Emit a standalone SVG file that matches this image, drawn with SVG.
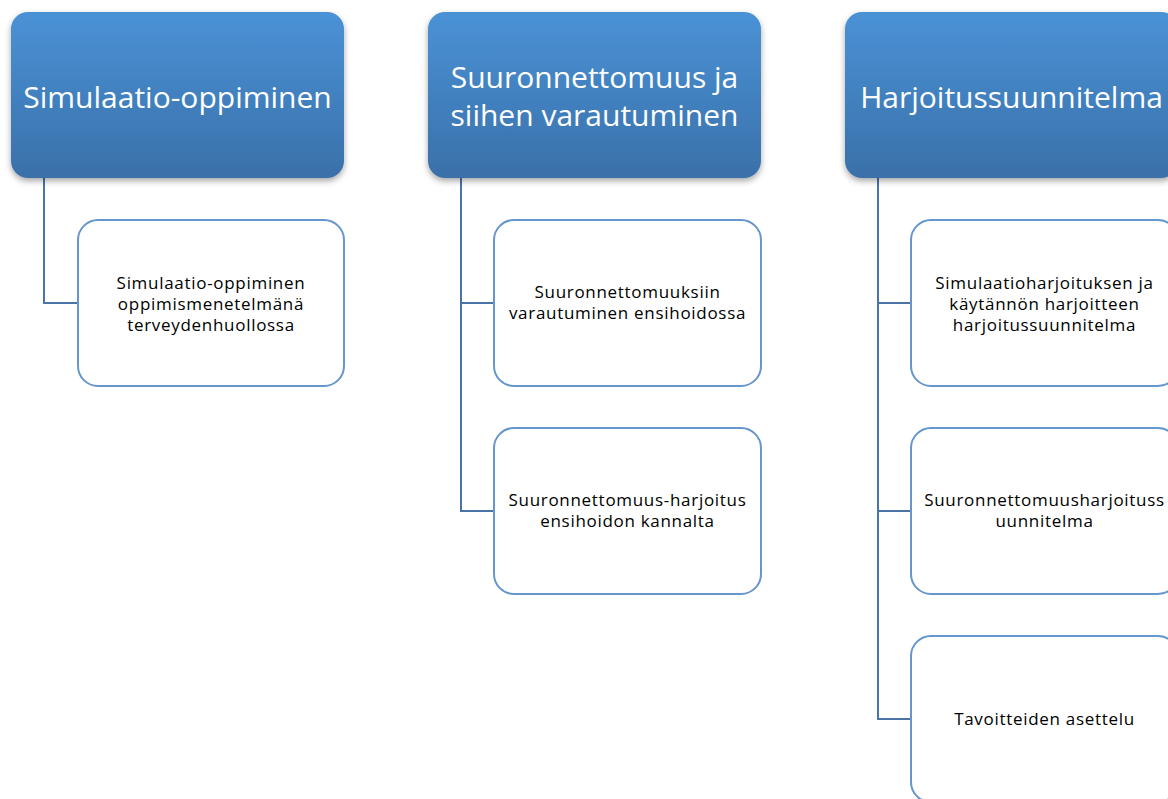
<svg xmlns="http://www.w3.org/2000/svg" width="1168" height="799" viewBox="0 0 1168 799">
<style>
.hdr{fill:url(#g);filter:url(#sh)}
.ht{font-family:"Open Sans",Lato,sans-serif;font-size:30px;fill:#fff;text-anchor:middle}
.cb{fill:#fff;stroke:#6796cc;stroke-width:2}
.ct{font-family:"Open Sans",Lato,sans-serif;font-size:17px;letter-spacing:0.7px;fill:#000;text-anchor:middle}
.cn{fill:none;stroke:#4a74a8;stroke-width:2}
</style>
<defs>
<linearGradient id="g" x1="0" y1="0" x2="0" y2="1">
<stop offset="0" stop-color="#4a92d6"/>
<stop offset="1" stop-color="#3a70a9"/>
</linearGradient>
<filter id="sh" x="-10%" y="-10%" width="120%" height="130%">
<feDropShadow dx="0" dy="3" stdDeviation="3" flood-color="#000" flood-opacity="0.35"/>
</filter>
</defs>
<rect width="1168" height="799" fill="#fff"/>
<g id="connectors">
<path class="cn" d="M44 178V303H78"/>
<path class="cn" d="M461 178V511H494M461 303H494"/>
<path class="cn" d="M878 178V719H911M878 303H911M878 511H911"/>
</g>
<g id="h1"><rect class="hdr" x="11" y="12" width="333" height="166" rx="17"/><text class="ht" x="177.5" y="108">Simulaatio-oppiminen</text></g>
<g id="h2"><rect class="hdr" x="428" y="12" width="333" height="166" rx="17"/><text class="ht" x="594.5" y="88">Suuronnettomuus ja</text><text class="ht" x="594.5" y="126">siihen varautuminen</text></g>
<g id="h3"><rect class="hdr" x="845" y="12" width="333" height="166" rx="17"/><text class="ht" x="1011.5" y="108">Harjoitussuunnitelma</text></g>
<g id="c1"><rect class="cb" x="78" y="220" width="266" height="166" rx="20"/><text class="ct" x="211" y="289">Simulaatio-oppiminen</text><text class="ct" x="211" y="310">oppimismenetelmänä</text><text class="ct" x="211" y="331">terveydenhuollossa</text></g>
<g id="c2"><rect class="cb" x="494" y="220" width="267" height="166" rx="20"/><text class="ct" x="627.5" y="298">Suuronnettomuuksiin</text><text class="ct" x="627.5" y="319">varautuminen ensihoidossa</text></g>
<g id="c3"><rect class="cb" x="494" y="428" width="267" height="166" rx="20"/><text class="ct" x="627.5" y="506">Suuronnettomuus-harjoitus</text><text class="ct" x="627.5" y="527">ensihoidon kannalta</text></g>
<g id="c4"><rect class="cb" x="911" y="220" width="267" height="166" rx="20"/><text class="ct" x="1044.5" y="289">Simulaatioharjoituksen ja</text><text class="ct" x="1044.5" y="310">käytännön harjoitteen</text><text class="ct" x="1044.5" y="331">harjoitussuunnitelma</text></g>
<g id="c5"><rect class="cb" x="911" y="428" width="267" height="166" rx="20"/><text class="ct" x="1044.5" y="506">Suuronnettomuusharjoituss</text><text class="ct" x="1044.5" y="527">uunnitelma</text></g>
<g id="c6"><rect class="cb" x="911" y="636" width="267" height="166" rx="20"/><text class="ct" x="1044.5" y="725">Tavoitteiden asettelu</text></g>
</svg>
